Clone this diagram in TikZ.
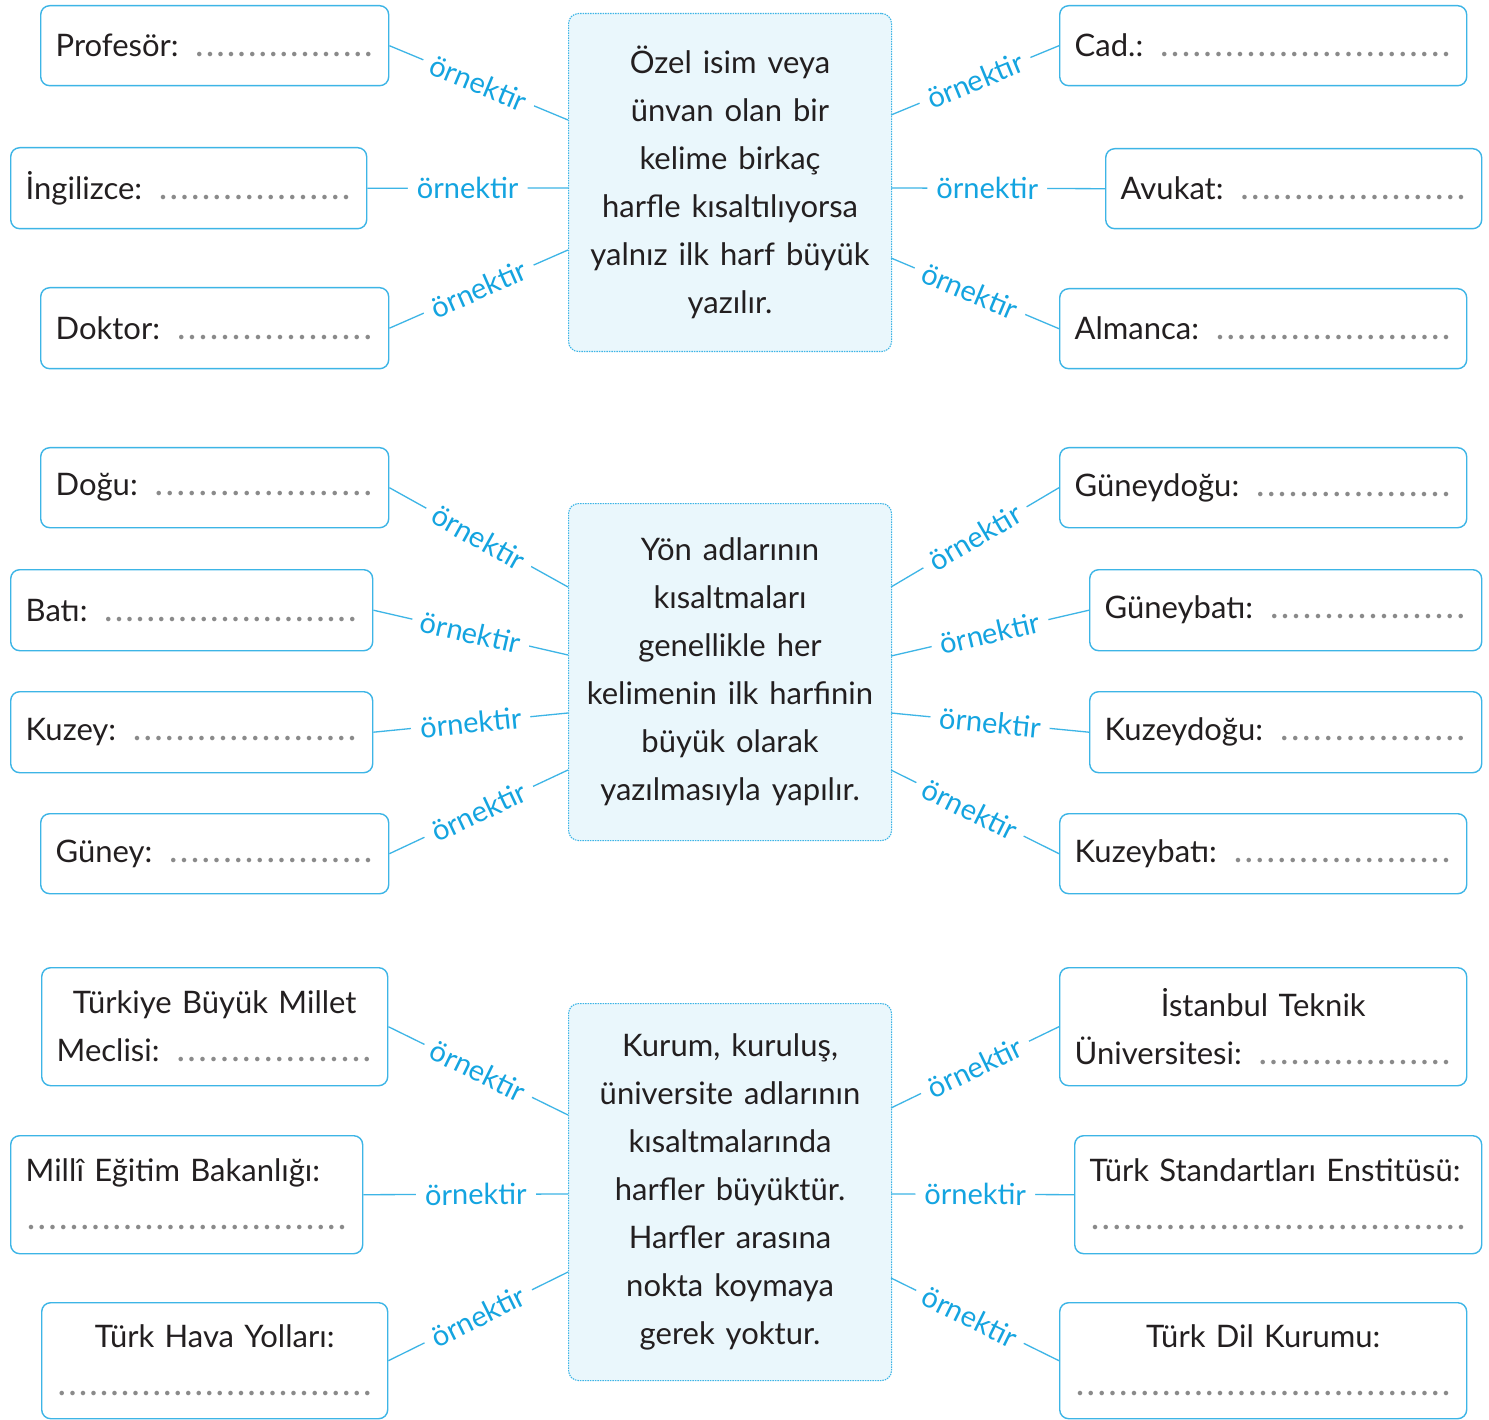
\documentclass[tikz,border=0pt]{standalone}
\usepackage{fontspec}
\setmainfont{Lato}
\definecolor{boxblue}{HTML}{3DB5E6}
\definecolor{lblblue}{HTML}{14A4E0}
\definecolor{cfill}{HTML}{EAF7FC}
\definecolor{dotgray}{HTML}{8A8A8A}
\definecolor{txt}{HTML}{231F20}
\newcommand{\blank}{\leavevmode\xleaders\hbox to 10.5pt{\hss\textcolor{dotgray}{\fontsize{36}{36}\selectfont.}\hss}\hskip 0pt plus 1fill\null}
\newcommand{\mainfnt}{\fontsize{31}{48}\selectfont\spaceskip=11pt plus 3pt minus 4pt\relax}
\tikzset{
  ebox/.style={draw=boxblue, line width=1.4pt, rounded corners=9pt, anchor=north west,
    inner xsep=15pt, inner ysep=0pt, align=left, font=\mainfnt, text=txt},
  cbox/.style={draw=boxblue, fill=cfill, line width=1.1pt, dash pattern=on 1.5pt off 1pt,
    rounded corners=10pt, anchor=north west, minimum width=323pt, inner sep=0pt,
    align=center, font=\mainfnt, text=txt},
  con/.style={draw=boxblue, line width=1.3pt},
  lbl/.style={pos=0.5, sloped, fill=white, inner xsep=9pt, inner ysep=1pt, text=lblblue,
    font=\fontsize{29}{30}\selectfont}
}
\begin{document}
\begin{tikzpicture}[x=1pt,y=-1pt]
\useasboundingbox[fill=white] (0,0) rectangle (1489,1420);

% ---------- section 1 ----------
\node[cbox, minimum height=338pt] (c1) at (568,13)
  {Özel isim veya\\ ünvan olan bir\\ kelime birkaç\\ harfle kısaltılıyorsa\\ yalnız ilk harf büyük\\ yazılır.};
\node[ebox, text width=318pt, minimum height=80pt] (prof) at (40,5) {Profesör: \blank};
\node[ebox, text width=326pt, minimum height=81pt] (ing) at (10,147) {İngilizce: \blank};
\node[ebox, text width=318pt, minimum height=81pt] (dok) at (40,287) {Doktor: \blank};
\node[ebox, text width=377pt, minimum height=80pt] (cad) at (1059,5) {Cad.: \blank};
\node[ebox, text width=346pt, minimum height=80pt] (avu) at (1105,148) {Avukat: \blank};
\node[ebox, text width=377pt, minimum height=80pt] (alm) at (1059,288) {Almanca: \blank};
\coordinate (a1) at (568,120);
\coordinate (a2) at (568,188);
\coordinate (a3) at (568,250);
\coordinate (b1) at (891,115);
\coordinate (b2) at (891,188);
\coordinate (b3) at (891,258);
\draw[con] (prof.east) -- node[lbl]{örnektir} (a1);
\draw[con] (ing.east) -- node[lbl]{örnektir} (a2);
\draw[con] (dok.east) -- node[lbl]{örnektir} (a3);
\draw[con] (b1) -- node[lbl]{örnektir} (cad.west);
\draw[con] (b2) -- node[lbl, pos=0.45]{örnektir} (avu.west);
\draw[con] (b3) -- node[lbl, pos=0.47]{örnektir} (alm.west);

% ---------- section 2 ----------
\node[cbox, minimum height=337pt] (c2) at (568,503)
  {Yön adlarının\\ kısaltmaları\\ genellikle her\\ kelimenin ilk harfinin\\ büyük olarak\\ yazılmasıyla yapılır.};
\node[ebox, text width=318pt, minimum height=80pt] (dogu) at (40,447) {Doğu: \blank};
\node[ebox, text width=332pt, minimum height=81pt] (bati) at (10,569) {Batı: \blank};
\node[ebox, text width=332pt, minimum height=81pt] (kuzey) at (10,691) {Kuzey: \blank};
\node[ebox, text width=318pt, minimum height=80pt] (guney) at (40,813) {Güney: \blank};
\node[ebox, text width=377pt, minimum height=80pt] (gd) at (1059,447) {Güneydoğu: \blank};
\node[ebox, text width=362pt, minimum height=81pt] (gb) at (1089,569) {Güneybatı: \blank};
\node[ebox, text width=362pt, minimum height=81pt] (kd) at (1089,691) {Kuzeydoğu: \blank};
\node[ebox, text width=377pt, minimum height=80pt] (kb) at (1059,813) {Kuzeybatı: \blank};
\coordinate (a4) at (568,587);
\coordinate (a5) at (568,655);
\coordinate (a6) at (568,713);
\coordinate (a7) at (568,770);
\coordinate (b4) at (891,587);
\coordinate (b5) at (891,656);
\coordinate (b6) at (891,713);
\coordinate (b7) at (891,770);
\draw[con] (dogu.east) -- node[lbl]{örnektir} (a4);
\draw[con] (bati.east) -- node[lbl]{örnektir} (a5);
\draw[con] (kuzey.east) -- node[lbl]{örnektir} (a6);
\draw[con] (guney.east) -- node[lbl]{örnektir} (a7);
\draw[con] (b4) -- node[lbl]{örnektir} (gd.west);
\draw[con] (b5) -- node[lbl]{örnektir} (gb.west);
\draw[con] (b6) -- node[lbl]{örnektir} (kd.west);
\draw[con] (b7) -- node[lbl, pos=0.47]{örnektir} (kb.west);

% ---------- section 3 ----------
\node[cbox, minimum height=377pt] (c3) at (568,1003)
  {Kurum, kuruluş,\\ üniversite adlarının\\ kısaltmalarında\\ harfler büyüktür.\\ Harfler arasına\\ nokta koymaya\\ gerek yoktur.};
\node[ebox, text width=316pt, minimum height=118pt] (tbmm) at (41,967)
  {\makebox[\linewidth]{Türkiye Büyük Millet}\\ Meclisi: \blank};
\node[ebox, text width=322pt, minimum height=118pt] (meb) at (10,1135)
  {Millî Eğitim Bakanlığı:\\ \blank};
\node[ebox, text width=316pt, minimum height=116pt] (thy) at (41,1302)
  {\makebox[\linewidth]{Türk Hava Yolları:}\\ \blank};
\node[ebox, text width=377pt, minimum height=118pt] (itu) at (1059,967)
  {\makebox[\linewidth]{İstanbul Teknik}\\ Üniversitesi: \blank};
\node[ebox, text width=377pt, minimum height=118pt] (tse) at (1074,1135)
  {\makebox[\linewidth][l]{Türk Standartları Enstitüsü:}\\ \blank};
\node[ebox, text width=377pt, minimum height=116pt] (tdk) at (1059,1302)
  {\makebox[\linewidth]{Türk Dil Kurumu:}\\ \blank};
\coordinate (a8) at (568,1115);
\coordinate (a9) at (568,1194);
\coordinate (a10) at (568,1272);
\coordinate (b8) at (891,1108);
\coordinate (b9) at (891,1194);
\coordinate (b10) at (891,1278);
\draw[con] (tbmm.east) -- node[lbl]{örnektir} (a8);
\draw[con] (meb.east) -- node[lbl, pos=0.55]{örnektir} (a9);
\draw[con] (thy.east) -- node[lbl]{örnektir} (a10);
\draw[con] (b8) -- node[lbl]{örnektir} (itu.west);
\draw[con] (b9) -- node[lbl, pos=0.46]{örnektir} (tse.west);
\draw[con] (b10) -- node[lbl, pos=0.47]{örnektir} (tdk.west);
\end{tikzpicture}
\end{document}
